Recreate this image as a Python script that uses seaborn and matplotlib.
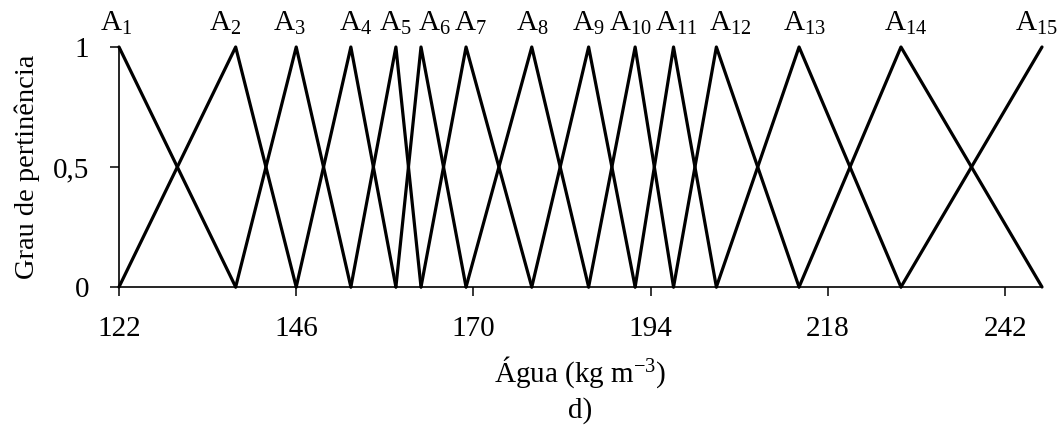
import matplotlib
matplotlib.use("Agg")
import matplotlib.pyplot as plt
import pandas as pd
import seaborn as sns

# Peaks of the triangular fuzzy sets for water content (kg m-3)
peaks = [122.0, 137.8, 146.0, 153.4, 159.5, 162.9, 169.0, 177.9,
         185.6, 191.9, 197.1, 202.9, 214.1, 227.9, 247.0]
set_names = [f"A{i}" for i in range(1, len(peaks) + 1)]
x_ticks = [122, 146, 170, 194, 218, 242]
y_ticks = [0, 0.5, 1]
y_tick_labels = ["0", "0,5", "1"]

# Each set reaches 1 at its peak and 0 at the neighbouring peaks
rows = []
for i, (name, c) in enumerate(zip(set_names, peaks)):
    if i > 0:
        rows.append((name, peaks[i - 1], 0.0))
    rows.append((name, c, 1.0))
    if i < len(peaks) - 1:
        rows.append((name, peaks[i + 1], 0.0))
df = pd.DataFrame(rows, columns=["conjunto", "agua", "grau"])

sns.set_style("ticks")
plt.rcParams["font.family"] = ["Liberation Serif", "DejaVu Serif"]
plt.rcParams["mathtext.fontset"] = "custom"
plt.rcParams["mathtext.rm"] = "Liberation Serif"
plt.rcParams["mathtext.it"] = "Liberation Serif:italic"

FS = 21
fig = plt.figure(figsize=(10.64, 4.29), dpi=100)
ax = fig.add_axes([119 / 1064, 1 - 287 / 429, (1042 - 119) / 1064, (287 - 47) / 429])

sns.lineplot(data=df, x="agua", y="grau", units="conjunto", estimator=None,
             sort=False, color="black", lw=2.3, clip_on=False, ax=ax,
             legend=False)

ax.set_xlim(peaks[0], peaks[-1])
ax.set_ylim(0, 1)
ax.set_xticks(x_ticks)
ax.set_xticklabels([str(t) for t in x_ticks])
ax.set_yticks(y_ticks)
ax.set_yticklabels(y_tick_labels)
ax.tick_params(axis="both", direction="out", length=6.5, width=1.1,
               color="black", labelsize=FS, labelcolor="black")
ax.tick_params(axis="x", pad=14.5)
ax.tick_params(axis="y", pad=15)
for side in ("top", "right"):
    ax.spines[side].set_visible(False)
for side in ("left", "bottom"):
    ax.spines[side].set_linewidth(1.2)
    ax.spines[side].set_color("black")

ax.set_xlabel("Água (kg m$^{-3}$)", fontsize=FS, color="black", labelpad=9)
ax.set_ylabel("Grau de pertinência", fontsize=20.5, color="black", labelpad=9.5)
fig.text(580 / 1064, 1 - 418 / 429, "d)", ha="center", va="baseline",
         fontsize=FS, color="black")

# Set names above each peak, nudged sideways where they crowd
nudge_px = [-3, -11, -7, 5, -1, 13, 4, 1, 0, -5, 3, 14, 5, 5, -6]
for name, c, dx in zip(set_names, peaks, nudge_px):
    ax.annotate(r"$\mathregular{A_{%s}}$" % name[1:], xy=(c, 1.0),
                xytext=(dx, 16), textcoords="offset pixels",
                ha="center", va="baseline", fontsize=FS, color="black",
                annotation_clip=False)

fig.savefig("out.png", dpi=100, facecolor="white")
